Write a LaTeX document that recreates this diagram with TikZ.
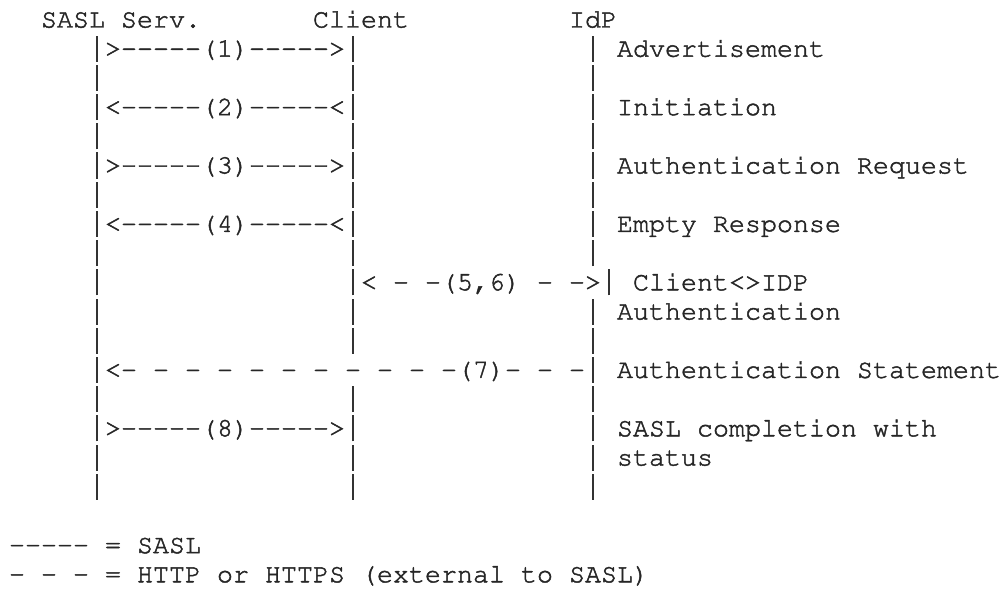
\documentclass[tikz,border=0pt]{standalone}
\usepackage[T1]{fontenc}
\usepackage{courier}
\tikzset{
  txt/.style={anchor=base west, inner sep=0pt, outer sep=0pt,
    font=\ttfamily\fontsize{26.667}{29.2}\selectfont, text=black!85,
    execute at begin node={\special{pdf:literal direct 2 Tr 0.45 w}}}
}
% vertical bar drawn as a rule in a character cell
\newcommand\vb{\makebox[16pt]{\textcolor{black!80}{\rule[-5pt]{1.5pt}{26pt}}}}
% #1 name, #2 column, #3 line, #4 text
\newcommand\seg[4]{\node[txt] (#1) at ({9+16*#2},{-(27.5+29.2*(#3-1))}) {#4};}
\newcommand\bars[1]{\seg{b#1a}{5}{#1}{\vb}\seg{b#1b}{21}{#1}{\vb}\seg{b#1c}{36}{#1}{\vb}}
\begin{document}
\begin{tikzpicture}[x=1pt,y=1pt]
\fill[white] (0,0) rectangle (1006,-591);
\useasboundingbox (0,0) rectangle (1006,-591);
% header
\seg{hsasl}{2}{1}{SASL Serv.}
\seg{hclient}{19}{1}{Client}
\seg{hidp}{35}{1}{IdP}
% (1)
\seg{m1}{5}{2}{\vb>-{}-{}-{}-{}-(1)-{}-{}-{}-{}->\vb}
\seg{l1}{36}{2}{\vb{} Advertisement}
\bars{3}
% (2)
\seg{m2}{5}{4}{\vb<-{}-{}-{}-{}-(2)-{}-{}-{}-{}-<\vb}
\seg{l2}{36}{4}{\vb{} Initiation}
\bars{5}
% (3)
\seg{m3}{5}{6}{\vb>-{}-{}-{}-{}-(3)-{}-{}-{}-{}->\vb}
\seg{l3}{36}{6}{\vb{} Authentication Request}
\bars{7}
% (4)
\seg{m4}{5}{8}{\vb<-{}-{}-{}-{}-(4)-{}-{}-{}-{}-<\vb}
\seg{l4}{36}{8}{\vb{} Empty Response}
\bars{9}
% (5,6)
\seg{b10a}{5}{10}{\vb}
\seg{m56}{21}{10}{\vb< - -(5,6) - ->\vb{} Client<>IDP}
\seg{b11a}{5}{11}{\vb}
\seg{b11b}{21}{11}{\vb}
\seg{l56}{36}{11}{\vb{} Authentication}
\bars{12}
% (7)
\seg{m7}{5}{13}{\vb<- - - - - - - - - - -(7)- - -\vb{} Authentication Statement}
\bars{14}
% (8)
\seg{m8}{5}{15}{\vb>-{}-{}-{}-{}-(8)-{}-{}-{}-{}->\vb}
\seg{l8}{36}{15}{\vb{} SASL completion with}
\seg{b16a}{5}{16}{\vb}
\seg{b16b}{21}{16}{\vb}
\seg{l8b}{36}{16}{\vb{} status}
\bars{17}
% legend
\seg{leg1}{0}{19}{-{}-{}-{}-{}- = SASL}
\seg{leg2}{0}{20}{- - - = HTTP or HTTPS (external to SASL)}
\end{tikzpicture}
\end{document}
